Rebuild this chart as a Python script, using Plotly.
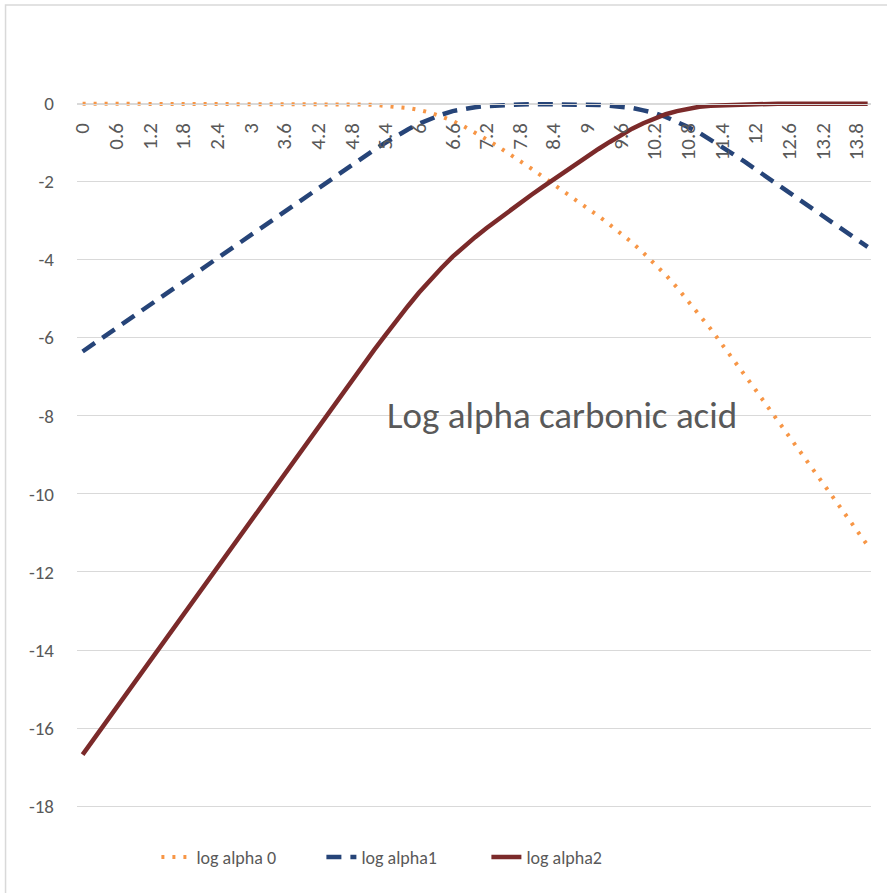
import plotly.graph_objects as go

# pH categories
ph = [0.0, 0.2, 0.4, 0.6, 0.8, 1.0, 1.2, 1.4, 1.6, 1.8, 2.0, 2.2, 2.4, 2.6, 2.8,
      3.0, 3.2, 3.4, 3.6, 3.8, 4.0, 4.2, 4.4, 4.6, 4.8, 5.0, 5.2, 5.4, 5.6, 5.8,
      6.0, 6.2, 6.4, 6.6, 6.8, 7.0, 7.2, 7.4, 7.6, 7.8, 8.0, 8.2, 8.4, 8.6, 8.8,
      9.0, 9.2, 9.4, 9.6, 9.8, 10.0, 10.2, 10.4, 10.6, 10.8, 11.0, 11.2, 11.4, 11.6, 11.8,
      12.0, 12.2, 12.4, 12.6, 12.8, 13.0, 13.2, 13.4, 13.6, 13.8, 14.0]

log_alpha0 = [0, 0, 0, 0, 0, 0, 0, 0, 0, 0, 0, 0, 0, 0, 0,
              0, 0, 0, 0, 0, 0, 0, -0.01, -0.01, -0.01, -0.02, -0.03, -0.05, -0.07, -0.11,
              -0.16, -0.23, -0.33, -0.44, -0.58, -0.74, -0.91, -1.09, -1.27, -1.47, -1.66, -1.86, -2.06, -2.26, -2.46,
              -2.67, -2.88, -3.10, -3.32, -3.56, -3.82, -4.09, -4.39, -4.71, -5.05, -5.40, -5.77, -6.16, -6.54, -6.93,
              -7.33, -7.73, -8.12, -8.52, -8.92, -9.32, -9.72, -10.12, -10.52, -10.92, -11.32]

log_alpha1 = [-6.35, -6.15, -5.95, -5.75, -5.55, -5.35, -5.15, -4.95, -4.75, -4.55, -4.35, -4.15, -3.95, -3.75, -3.55,
              -3.35, -3.15, -2.95, -2.75, -2.55, -2.35, -2.15, -1.95, -1.76, -1.56, -1.37, -1.18, -1.00, -0.82, -0.66,
              -0.51, -0.38, -0.28, -0.19, -0.13, -0.09, -0.06, -0.04, -0.02, -0.02, -0.01, -0.01, -0.01, -0.01, -0.01,
              -0.02, -0.03, -0.05, -0.07, -0.11, -0.17, -0.24, -0.34, -0.46, -0.60, -0.75, -0.92, -1.11, -1.29, -1.48,
              -1.68, -1.88, -2.07, -2.27, -2.47, -2.67, -2.87, -3.07, -3.27, -3.47, -3.67]

log_alpha2 = [-16.68, -16.28, -15.88, -15.48, -15.08, -14.68, -14.28, -13.88, -13.48, -13.08, -12.68, -12.28, -11.88, -11.48, -11.08,
              -10.68, -10.28, -9.88, -9.48, -9.08, -8.68, -8.28, -7.89, -7.49, -7.09, -6.70, -6.31, -5.93, -5.55, -5.19,
              -4.84, -4.51, -4.21, -3.92, -3.66, -3.42, -3.19, -2.97, -2.75, -2.55, -2.34, -2.14, -1.94, -1.74, -1.54,
              -1.35, -1.16, -0.98, -0.80, -0.64, -0.50, -0.37, -0.27, -0.19, -0.13, -0.08, -0.05, -0.04, -0.02, -0.01,
              -0.01, -0.01, 0, 0, 0, 0, 0, 0, 0, 0, 0]

x_tick_vals = [0, 0.6, 1.2, 1.8, 2.4, 3.0, 3.6, 4.2, 4.8, 5.4, 6.0, 6.6, 7.2, 7.8,
               8.4, 9.0, 9.6, 10.2, 10.8, 11.4, 12.0, 12.6, 13.2, 13.8]
x_tick_text = ["0", "0.6", "1.2", "1.8", "2.4", "3", "3.6", "4.2", "4.8", "5.4", "6", "6.6", "7.2", "7.8",
               "8.4", "9", "9.6", "10.2", "10.8", "11.4", "12", "12.6", "13.2", "13.8"]
y_tick_vals = [0, -2, -4, -6, -8, -10, -12, -14, -16, -18]
y_tick_text = ["0", "-2", "-4", "-6", "-8", "-10", "-12", "-14", "-16", "-18"]

FONT = "Carlito, Lato, sans-serif"
GREY = "#595959"

fig = go.Figure()
fig.add_trace(go.Scatter(x=ph, y=log_alpha0, mode="lines", name="log alpha 0",
                         line=dict(color="#F79646", width=4, dash="3px,8px")))
fig.add_trace(go.Scatter(x=ph, y=log_alpha1, mode="lines", name="log alpha1",
                         line=dict(color="#264478", width=4.5, dash="15px,9px")))
fig.add_trace(go.Scatter(x=ph, y=log_alpha2, mode="lines", name="log alpha2",
                         line=dict(color="#7B2A2A", width=4.5)))

y_lo, y_hi = -18.1, 0.3
x_pos = (0 - y_lo) / (y_hi - y_lo)

fig.update_layout(
    width=887, height=893,
    margin=dict(l=77, r=16, t=92.3, b=83.1),
    paper_bgcolor="white", plot_bgcolor="white",
    font=dict(family=FONT, color=GREY, size=18),
    showlegend=True,
    legend=dict(orientation="h", x=0.100, xanchor="left", y=-0.066, yanchor="middle",
                font=dict(size=18, color=GREY), entrywidth=120,
                bgcolor="rgba(0,0,0,0)"),
    xaxis=dict(range=[-0.1, 14.06], tickvals=x_tick_vals, ticktext=x_tick_text,
               tickangle=-90, showgrid=False, zeroline=False,
               anchor="free", position=x_pos, side="bottom",
               showline=True, linecolor="#D9D9D9", linewidth=1,
               ticks="", ticklabelstandoff=10,
               tickfont=dict(size=21, color=GREY)),
    yaxis=dict(range=[y_lo, y_hi], tickvals=y_tick_vals, ticktext=y_tick_text, showgrid=True,
               gridcolor="#D9D9D9", gridwidth=1, zeroline=False, showline=False,
               ticks="", ticklabelstandoff=22,
               tickfont=dict(size=19, color=GREY)),
    annotations=[dict(text="Log alpha carbonic acid", x=8.55, y=-8.0, xref="x", yref="y",
                      showarrow=False, xanchor="center", yanchor="middle",
                      font=dict(size=37, color=GREY, family=FONT))],
    shapes=[dict(type="rect", xref="paper", yref="paper", x0=-0.090, x1=1.2, y0=-0.2, y1=1.121,
                 line=dict(color="#D9D9D9", width=1.5), layer="below")],
)

fig.write_html("out.html", config={"displayModeBar": False},
               post_script="document.body.style.margin='0px';")
